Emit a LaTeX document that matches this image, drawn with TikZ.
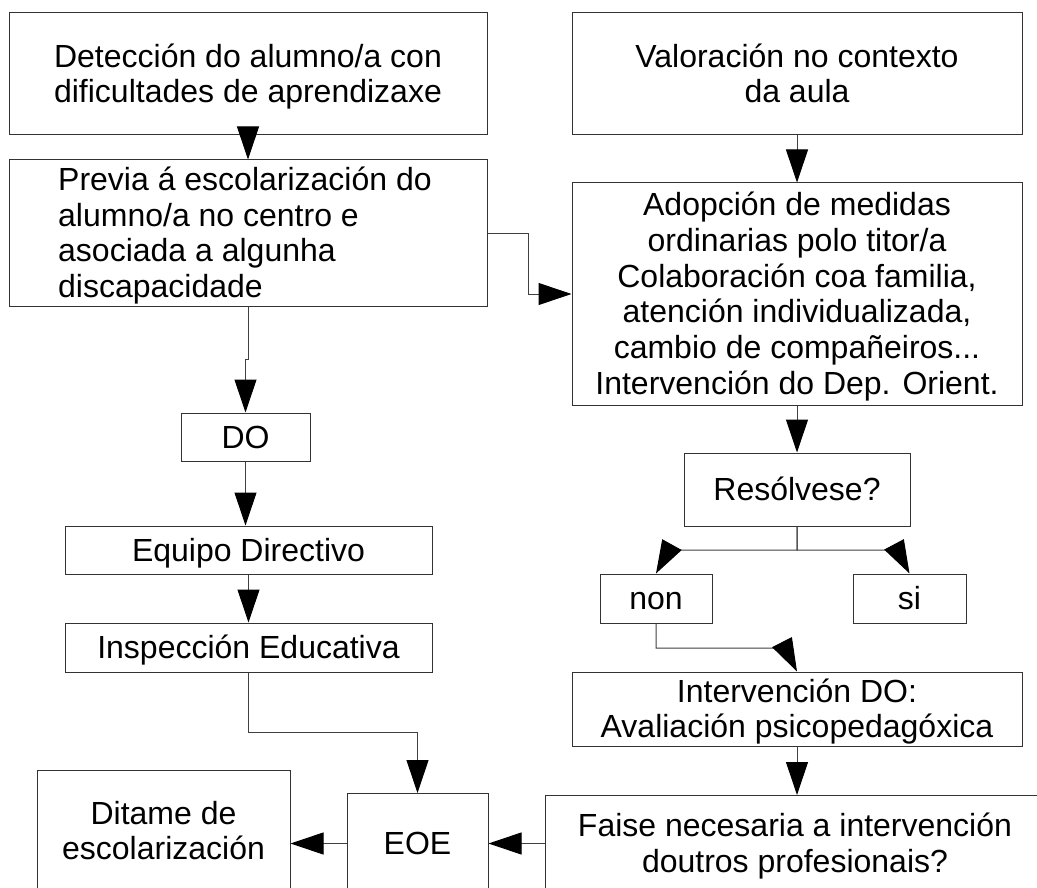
\documentclass[tikz,border=0pt]{standalone}
\usepackage{fontspec}
\setmainfont{Liberation Sans}
\usetikzlibrary{arrows.meta,calc}
\newcommand\lstr{\rule[-6.78pt]{0pt}{35.74pt}}
\tikzset{
  box/.style={draw=black!80, line width=1pt, inner sep=0pt, align=center,
    font=\fontsize{32pt}{35.74pt}\selectfont},
  txt/.style={inner sep=0pt, font=\fontsize{32pt}{35.74pt}\selectfont},
  conn/.style={draw=black!75, line width=1pt,
    -{Triangle[length=33pt,width=22pt,color=black]}},
}
\begin{document}
\begin{tikzpicture}[x=1pt,y=-1pt]
\useasboundingbox (0,0) rectangle (1037,888);
\fill[white] (0,0) rectangle (1037,888);
\clip (0,0) rectangle (1037,888);

% left column
\node[box, minimum width=478pt, minimum height=122pt] (det) at (248,74)
  {\lstr Detección do alumno/a con\\\lstr dificultades de aprendizaxe};
\node[box, minimum width=478pt, minimum height=146pt] (previa) at (248,233) {};
\node[txt, anchor=west, align=left] (previaT) at (58,233)
  {\lstr Previa á escolarización do\\\lstr alumno/a no centro e\\\lstr asociada a algunha\\\lstr discapacidade};
\node[box, minimum width=129pt, minimum height=48pt] (do) at (245.5,437) {\lstr DO};
\node[box, minimum width=367pt, minimum height=48pt] (equipo) at (248.5,550) {\lstr Equipo Directivo};
\node[box, minimum width=367pt, minimum height=49pt] (insp) at (248.5,647.5) {\lstr Inspección Educativa};

% right column
\node[box, minimum width=450pt, minimum height=122pt] (val) at (797,74)
  {\lstr Valoración no contexto\\\lstr da aula};
\node[box, minimum width=450pt, minimum height=222pt] (adop) at (797,294)
  {\lstr Adopción de medidas\\\lstr ordinarias polo titor/a\\\lstr Colaboración coa familia,\\\lstr atención individualizada,\\\lstr cambio de compañeiros...\\\lstr Intervención do Dep. Orient.};
\node[box, minimum width=226pt, minimum height=73pt] (res) at (797,489.5) {\lstr Resólvese?};
\node[box, minimum width=112pt, minimum height=49pt] (non) at (656,598.5) {\lstr non};
\node[box, minimum width=113pt, minimum height=49pt] (si) at (909.5,598.5) {\lstr si};
\node[box, minimum width=450pt, minimum height=74pt] (intdo) at (797,709)
  {\lstr Intervención DO:\\\lstr Avaliación psicopedagóxica};

% bottom row
\node[box, minimum width=500pt, minimum height=96pt] (faise) at (795,843.5)
  {\lstr Faise necesaria a intervención\\\lstr doutros profesionais?};
\node[box, minimum width=141pt, minimum height=100pt] (eoe) at (417.5,843.5) {\lstr EOE};
\node[box, minimum width=253pt, minimum height=122pt] (ditame) at (163.5,831)
  {\lstr Ditame de\\\lstr escolarización};

% branch corners
\coordinate (cn) at (669,550);
\coordinate (cs) at (897,550);
\coordinate (ci) at (785,648);

% connectors
\draw[conn] (det.south) -- (previa.north);
\draw[conn] (previa.south) -- ++(0,53) -| (do.north);
\draw[conn] (do.south) -- (do.south |- equipo.north);
\draw[conn] (equipo.south) -- (insp.north);
\draw[conn] (insp.south) -- ++(0,60) -| (eoe.north);
\draw[conn] (previa.east) -- ++(41,0) |- (adop.west);
\draw[conn] (val.south) -- (adop.north);
\draw[conn] (adop.south) -- (res.north);
\draw[conn] (res.south) |- (cn) -- (non.north);
\draw[conn] (res.south) |- (cs) -- (si.north);
\draw[conn] (non.south) |- (ci) -- (intdo.north);
\draw[conn] (intdo.south) -- (intdo.south |- faise.north);
\draw[conn] (faise.west) -- (eoe.east);
\draw[conn] (eoe.west) -- (ditame.east |- eoe.west);
\end{tikzpicture}
\end{document}
